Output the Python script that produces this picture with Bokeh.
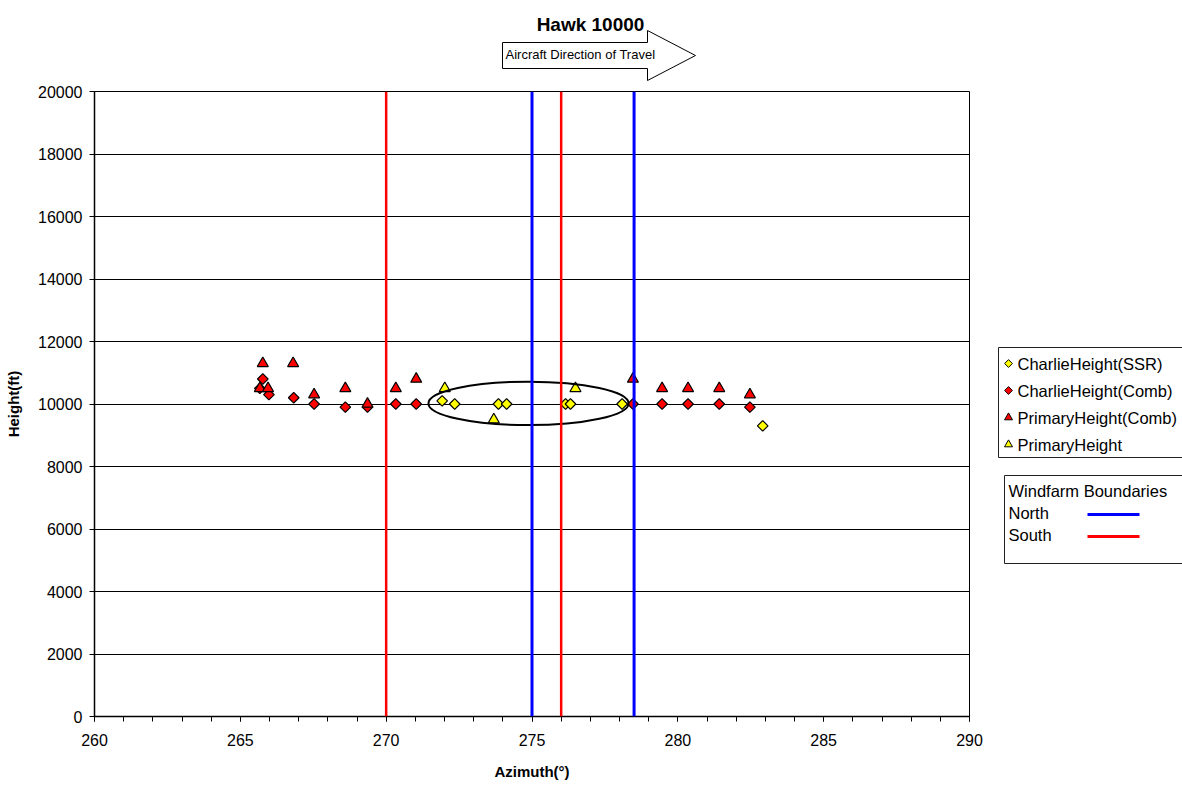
import math
from bokeh.plotting import figure
from bokeh.models import Range1d, Span, SingleIntervalTicker
from bokeh.layouts import column, row
from bokeh.embed import file_html
from bokeh.resources import INLINE
from bokeh.core.properties import value

FONT = "Liberation Sans"

# ---------------- data ----------------
title_text = "Hawk 10000"
arrow_text = "Aircraft Direction of Travel"
x_label = "Azimuth(°)"
y_label = "Height(ft)"

ssr_az = [271.92, 272.35, 273.85, 274.13, 276.15, 276.32, 278.09, 282.91]
ssr_h = [10100, 10000, 10000, 10000, 10000, 10000, 10000, 9300]

comb_az = [265.67, 265.77, 265.98, 266.83, 267.53, 268.60, 269.36, 270.33, 271.03,
           278.46, 279.46, 280.35, 281.42, 282.47]
comb_h = [10500, 10800, 10300, 10200, 10000, 9900, 9900, 10000, 10000,
          10000, 10000, 10000, 10000, 9900]

pcomb_az = [265.67, 265.77, 265.95, 266.81, 267.53, 268.60, 269.36, 270.33, 271.03,
            278.46, 279.46, 280.35, 281.42, 282.47]
pcomb_h = [10500, 11300, 10500, 11300, 10300, 10500, 10000, 10500, 10800,
           10800, 10500, 10500, 10500, 10300]

prim_az = [272.01, 273.69, 276.49]
prim_h = [10500, 9500, 10500]

series_names = ["CharlieHeight(SSR)", "CharlieHeight(Comb)", "PrimaryHeight(Comb)", "PrimaryHeight"]
series_x = [ssr_az, comb_az, pcomb_az, prim_az]
series_y = [ssr_h, comb_h, pcomb_h, prim_h]
series_marker = ["square", "square", "triangle", "triangle"]
series_angle = [45, 45, 0, 0]
series_color = ["#FFFF00", "#FF0000", "#FF0000", "#FFFF00"]

north_bounds = [275.0, 278.5]
south_bounds = [270.0, 276.0]
boundary_title = "Windfarm Boundaries"
boundary_names = ["North", "South"]
boundary_colors = ["#0000FF", "#FF0000"]

# highlighted group (ellipse): centre az, centre height, width (deg), height (ft)
ell_x, ell_y, ell_w, ell_h = 274.88, 10020, 6.86, 1390

# ---------------- top: title and arrow ----------------
top = figure(width=1182, height=81, x_range=Range1d(0, 1182), y_range=Range1d(81, 0),
             output_backend="svg", toolbar_location=None, x_axis_type=None, y_axis_type=None,
             min_border=0, outline_line_color=None)
top.patch(x=[502, 647, 647, 695, 647, 647, 502], y=[42, 42, 30, 55, 80, 68, 68],
          fill_color="white", line_color="black", line_width=1)
top.text(x=[505], y=[54], text=[arrow_text], text_font=value(FONT), text_font_size="13px",
         text_align="left", text_baseline="middle", text_color="black")
top.text(x=[590], y=[24], text=[title_text], text_font=value(FONT), text_font_size="19px",
         text_font_style="bold", text_align="center", text_baseline="middle", text_color="black")

# ---------------- main chart ----------------
p = figure(width=994, height=703, x_range=Range1d(260, 290), y_range=Range1d(0, 20000),
           output_backend="svg", toolbar_location=None,
           min_border_left=94, min_border_right=25, min_border_top=10, min_border_bottom=68,
           outline_line_color="black", outline_line_width=1,
           background_fill_color="white", border_fill_color="white")

p.xaxis.ticker = SingleIntervalTicker(interval=5, num_minor_ticks=5)
p.yaxis.ticker = SingleIntervalTicker(interval=2000, num_minor_ticks=0)
p.xgrid.visible = False
p.ygrid.ticker = p.yaxis.ticker
p.ygrid.grid_line_color = "black"
p.ygrid.grid_line_width = 1

for ax in (p.xaxis, p.yaxis):
    ax.axis_line_color = "black"
    ax.axis_line_width = 1.5
    ax.major_tick_line_color = "black"
    ax.minor_tick_line_color = "black"
    ax.major_tick_in = 0
    ax.major_tick_out = 5
    ax.minor_tick_in = 0
    ax.minor_tick_out = 5
    ax.major_label_text_font = FONT
    ax.major_label_text_font_size = "16px"
    ax.major_label_text_color = "black"
    ax.axis_label_text_font = FONT
    ax.axis_label_text_font_size = "15px"
    ax.axis_label_text_font_style = "bold"
    ax.axis_label_text_color = "black"
p.yaxis.minor_tick_line_color = None
p.xaxis.axis_label = x_label
p.yaxis.axis_label = y_label
p.xaxis.major_label_standoff = 12
p.xaxis.axis_label_standoff = 14
p.yaxis.major_label_standoff = 7
p.yaxis.axis_label_standoff = 13

for xs, ys, mk, ang, col in zip(series_x, series_y, series_marker, series_angle, series_color):
    size = 7.5 if mk == "square" else 11
    p.scatter(xs, ys, marker=mk, angle=math.radians(ang), size=size,
              fill_color=col, line_color="black", line_width=1.2)

p.ellipse(x=[ell_x], y=[ell_y], width=ell_w, height=ell_h, fill_color=None,
          line_color="black", line_width=2)

for loc in south_bounds:
    p.add_layout(Span(location=loc, dimension="height", line_color=boundary_colors[1], line_width=2.5))
for loc in north_bounds:
    p.add_layout(Span(location=loc, dimension="height", line_color=boundary_colors[0], line_width=3))

# ---------------- legends ----------------
# (this panel's frame is aligned with the chart's frame: y 91..716 on the page)
leg = figure(width=188, height=703, x_range=Range1d(994, 1182), y_range=Range1d(716, 91),
             output_backend="svg", toolbar_location=None, x_axis_type=None, y_axis_type=None,
             min_border=0, outline_line_color=None)

leg.quad(left=[998], right=[1200], top=[347], bottom=[457], fill_color="white",
         line_color="#222222", line_width=1)
row_y = [363 + 27 * i for i in range(len(series_names))]
for i, (mk, ang, col) in enumerate(zip(series_marker, series_angle, series_color)):
    size = 5.5 if mk == "square" else 8
    leg.scatter([1008], [row_y[i]], marker=mk, angle=math.radians(ang), size=size,
                fill_color=col, line_color="black", line_width=1)
leg.text(x=[1017] * len(series_names), y=row_y, text=series_names, text_font=value(FONT),
         text_font_size="16.5px", text_align="left", text_baseline="middle", text_color="black")

leg.quad(left=[1004], right=[1200], top=[475], bottom=[563], fill_color="white",
         line_color="#222222", line_width=1)
leg.text(x=[1008], y=[490], text=[boundary_title], text_font=value(FONT), text_font_size="16.5px",
         text_align="left", text_baseline="middle", text_color="black")
b_y = [512, 534]
leg.text(x=[1008, 1008], y=b_y, text=boundary_names, text_font=value(FONT), text_font_size="16.5px",
         text_align="left", text_baseline="middle", text_color="black")
for yy, col in zip(b_y, boundary_colors):
    leg.segment(x0=[1087], y0=[yy + 2], x1=[1139], y1=[yy + 2], line_color=col, line_width=3)

layout = column(top, row(p, leg))
open("out.html", "w").write(file_html(layout, INLINE))
